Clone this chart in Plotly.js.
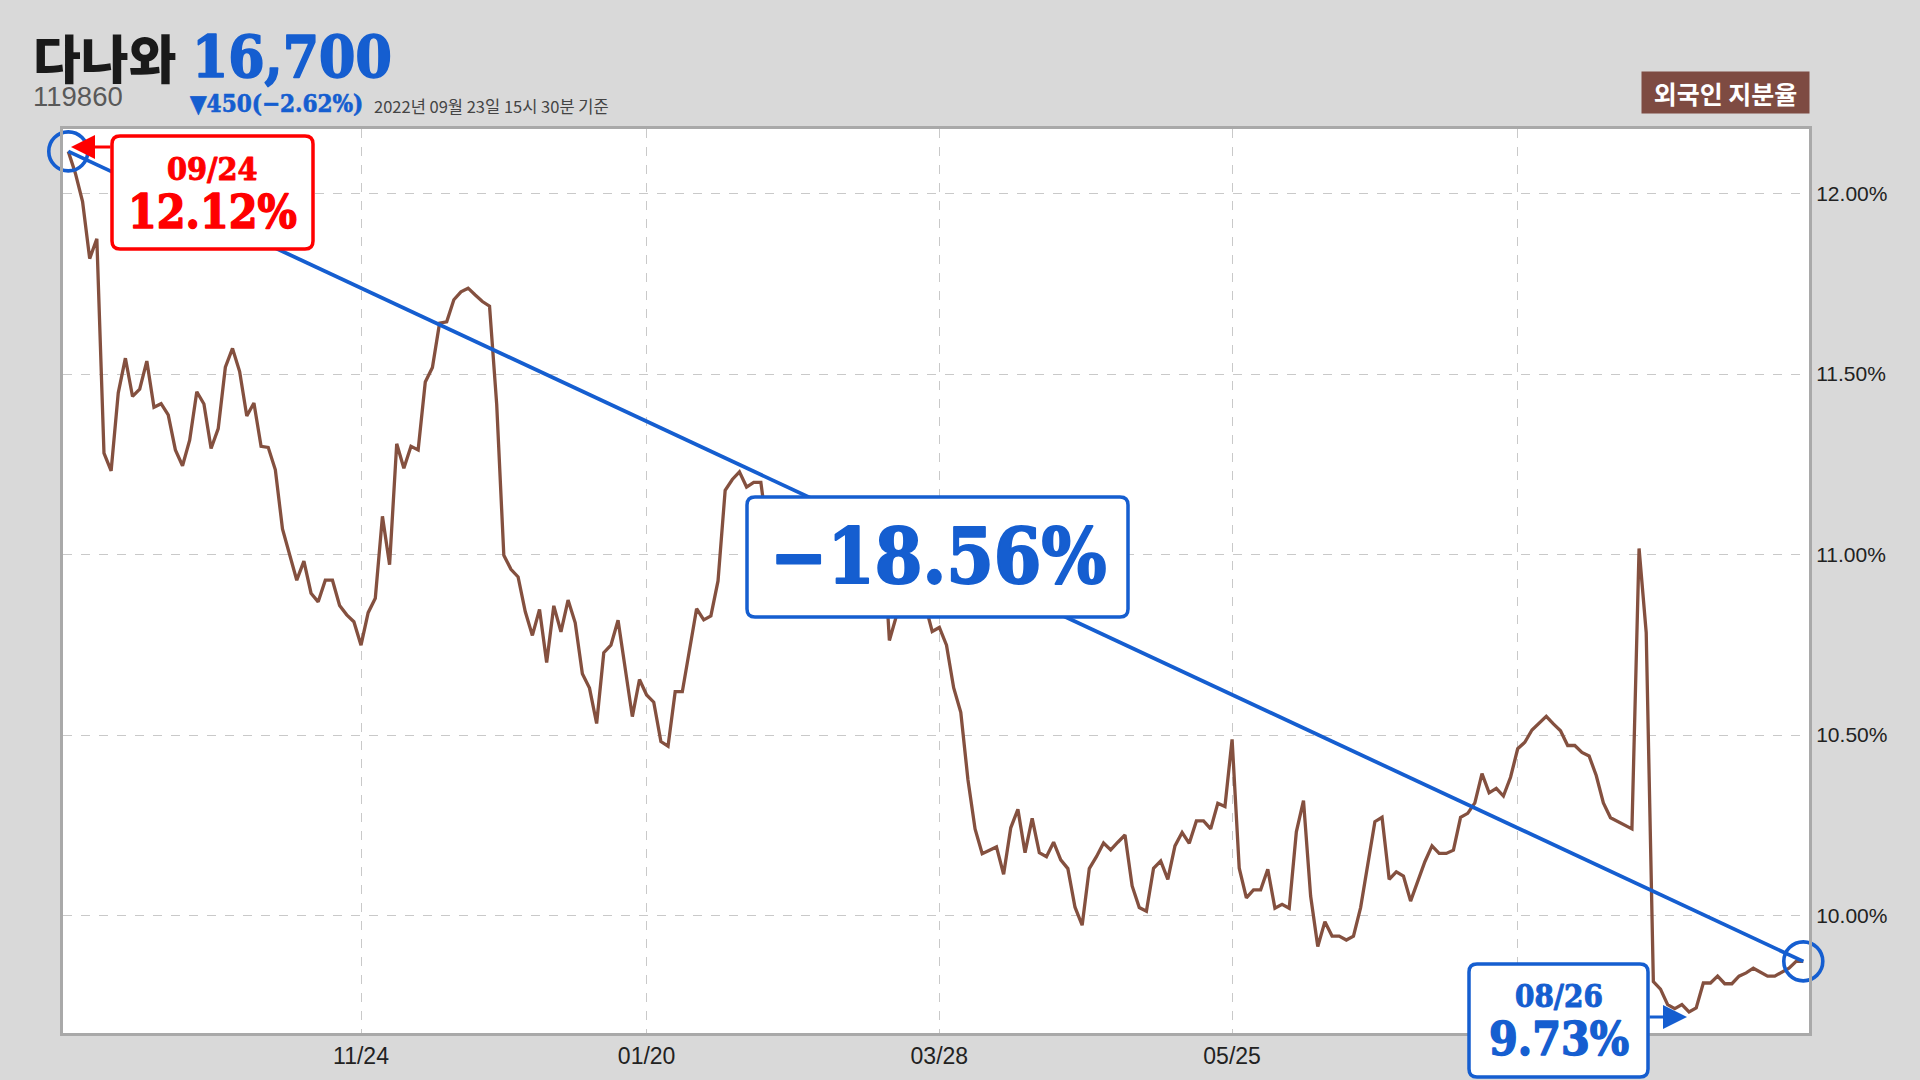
<!DOCTYPE html>
<html><head><meta charset="utf-8">
<script src="https://cdn.plot.ly/plotly-3.0.1.min.js"></script>
<style>
html,body{margin:0;padding:0;background:#d9d9d9;overflow:hidden}#chart{width:1920px;height:1080px;}
g.annotation[data-index="1"] text.annotation-text{stroke:#155ed0;stroke-width:1.6px;stroke-linejoin:round}
g.annotation[data-index="3"] text.annotation-text{stroke:#155ed0;stroke-width:0.6px;stroke-linejoin:round}
g.annotation[data-index="6"] text.annotation-text{stroke:#ff0000;stroke-width:0.9px;stroke-linejoin:round}
g.annotation[data-index="7"] text.annotation-text{stroke:#ff0000;stroke-width:1.4px;stroke-linejoin:round}
g.annotation[data-index="8"] text.annotation-text{stroke:#155ed0;stroke-width:2px;stroke-linejoin:round}
g.annotation[data-index="9"] text.annotation-text{stroke:#155ed0;stroke-width:0.9px;stroke-linejoin:round}
g.annotation[data-index="10"] text.annotation-text{stroke:#155ed0;stroke-width:1.4px;stroke-linejoin:round}
</style>
</head><body><div id="chart"></div>
<script>
// ---------------- data ----------------
const stockName = '다나와';
const stockCode = '119860';
const priceText = '16,700';
const changeText = '▼450(−2.62%)';
const asOfText = '2022년 09월 23일 15시 30분 기준';
const seriesName = '외국인 지분율';
const startDate = '09/24';
const startValueText = '12.12%';
const minDate = '08/26';
const minValueText = '9.73%';
const totalChangeText = '−18.56%';
const tickIndex = [41, 81, 122, 163, 203];
const tickLabels = ['11/24', '01/20', '03/28', '05/25', ''];
const yTickValues = [10, 10.5, 11, 11.5, 12];
const yTickLabels = ['10.00%', '10.50%', '11.00%', '11.50%', '12.00%'];
const foreignRatio = [
 12.117,12.056,11.978,11.820,11.875,11.281,11.232,11.448,11.544,11.438,
 11.458,11.536,11.408,11.418,11.387,11.290,11.246,11.317,11.451,11.417,
 11.294,11.349,11.519,11.571,11.507,11.384,11.420,11.300,11.297,11.235,
 11.071,10.999,10.929,10.982,10.893,10.869,10.929,10.929,10.859,10.833,
 10.814,10.749,10.839,10.879,11.106,10.972,11.307,11.239,11.300,11.290,
 11.478,11.518,11.641,11.645,11.706,11.728,11.738,11.719,11.701,11.688,
 11.417,10.998,10.959,10.938,10.842,10.776,10.848,10.701,10.858,10.786,
 10.874,10.811,10.670,10.630,10.532,10.728,10.749,10.818,10.683,10.551,
 10.654,10.611,10.591,10.482,10.469,10.620,10.620,10.733,10.850,10.819,
 10.830,10.927,11.178,11.208,11.229,11.187,11.200,11.200,11.050,10.980,
 11.020,10.950,10.990,11.040,11.080,11.030,10.970,11.010,11.060,11.100,
 11.070,11.020,10.980,11.030,11.100,10.762,10.831,10.900,10.950,10.920,
 10.862,10.787,10.798,10.749,10.631,10.563,10.377,10.240,10.171,10.181,
 10.190,10.114,10.243,10.294,10.174,10.269,10.174,10.163,10.203,10.154,
 10.130,10.023,9.973,10.130,10.163,10.201,10.182,10.203,10.223,10.082,
 10.022,10.012,10.131,10.151,10.100,10.193,10.230,10.200,10.262,10.262,
 10.240,10.311,10.302,10.488,10.131,10.049,10.071,10.071,10.128,10.020,
 10.031,10.020,10.232,10.318,10.054,9.914,9.983,9.943,9.943,9.932,
 9.943,10.022,10.146,10.260,10.272,10.100,10.121,10.109,10.040,10.094,
 10.149,10.193,10.172,10.172,10.181,10.272,10.283,10.312,10.393,10.340,
 10.352,10.331,10.383,10.462,10.480,10.514,10.533,10.552,10.531,10.512,
 10.471,10.471,10.452,10.442,10.388,10.312,10.271,10.261,10.249,10.240,
 11.017,10.784,9.817,9.796,9.753,9.742,9.753,9.733,9.744,9.813,
 9.813,9.832,9.811,9.811,9.832,9.841,9.854,9.842,9.832,9.832,
 9.844,9.854,9.873,9.873
];

// ---------------- style ----------------
const BLUE = '#155ed0', RED = '#ff0000', BROWN = '#84503f', BOXBROWN = '#7e4b42';
const SERIF = '"DejaVu Serif Condensed", "DejaVu Serif", serif';
const KR = '"Noto Sans CJK KR", sans-serif';
const SANS = '"Liberation Sans", Arial, sans-serif';
const M = {l: 63, r: 111, t: 129, b: 47};
const PW = 1920 - M.l - M.r, PH = 1080 - M.t - M.b;
const X = p => (p - M.l) / PW;
const Y = p => (1080 - M.b - p) / PH;

const idx = foreignRatio.map((_, i) => i);
const last = foreignRatio.length - 1;

function roundRect(x0, y0, x1, y1, r) {
  const f = (a, b) => X(a) + ',' + Y(b);
  return 'M' + f(x0 + r, y0) + ' L' + f(x1 - r, y0) + ' Q' + f(x1, y0) + ' ' + f(x1, y0 + r) +
    ' L' + f(x1, y1 - r) + ' Q' + f(x1, y1) + ' ' + f(x1 - r, y1) +
    ' L' + f(x0 + r, y1) + ' Q' + f(x0, y1) + ' ' + f(x0, y1 - r) +
    ' L' + f(x0, y0 + r) + ' Q' + f(x0, y0) + ' ' + f(x0 + r, y0) + ' Z';
}

const traces = [
  {x: idx, y: foreignRatio, type: 'scatter', mode: 'lines', line: {color: BROWN, width: 3.3}, hoverinfo: 'skip'},
  {x: [0, last], y: [foreignRatio[0], foreignRatio[last]], type: 'scatter', mode: 'lines',
   line: {color: BLUE, width: 3.8}, hoverinfo: 'skip'},
  {x: [0, last], y: [foreignRatio[0], foreignRatio[last]], type: 'scatter', mode: 'markers', cliponaxis: false,
   marker: {symbol: 'circle-open', size: 39, color: BLUE, line: {width: 3.6, color: BLUE}}, hoverinfo: 'skip'}
];

const boxLine = c => ({color: c, width: 3.5});
const shapes = [
  {type: 'path', xref: 'paper', yref: 'paper', layer: 'above', path: roundRect(112, 136, 313, 249, 8), fillcolor: '#fff', line: boxLine(RED)},
  {type: 'path', xref: 'paper', yref: 'paper', layer: 'above', path: roundRect(747, 497, 1128, 617, 8), fillcolor: '#fff', line: boxLine(BLUE)},
  {type: 'path', xref: 'paper', yref: 'paper', layer: 'above', path: roundRect(1469, 964, 1648, 1077, 8), fillcolor: '#fff', line: boxLine(BLUE)}
];

function txt(text, x, y, size, color, family, weight, xanchor) {
  return {text: text, xref: 'paper', yref: 'paper', x: X(x), y: Y(y), xanchor: xanchor || 'center', yanchor: 'middle',
    showarrow: false, font: {size: size, color: color, family: family, weight: weight || 'normal'}};
}

const annotations = [
  Object.assign(txt(stockName, 31, 56.5, 52, '#1a1a1a', KR, 900, 'left'), {height: 58}),
  txt(priceText, 190, 57, 58, BLUE, SERIF, 'bold', 'left'),
  Object.assign(txt(stockCode, 31, 96, 27.5, '#595959', SANS, 'normal', 'left'), {height: 22}),
  txt(changeText, 188, 103.5, 24, BLUE, SERIF, 'bold', 'left'),
  txt(asOfText, 372, 106, 16.5, '#444', KR, 'normal', 'left'),
  Object.assign(txt(seriesName, 1725.5, 92.5, 25, '#fff', KR, 'bold'), {bgcolor: BOXBROWN, width: 167, height: 41, borderpad: 0}),
  txt(startDate, 212.5, 169, 32, RED, SERIF, 'bold'),
  txt(startValueText, 212.5, 212, 46, RED, SERIF, 'bold'),
  txt(totalChangeText, 937.5, 556, 76, BLUE, SERIF, 'bold'),
  txt(minDate, 1558.5, 996, 31, BLUE, SERIF, 'bold'),
  txt(minValueText, 1558.5, 1039, 46, BLUE, SERIF, 'bold'),
  {text: '', xref: 'paper', yref: 'paper', x: X(71), y: Y(147), ax: 41, ay: 0, showarrow: true,
   arrowcolor: RED, arrowwidth: 3, arrowhead: 2, arrowsize: 1.6},
  {text: '', xref: 'paper', yref: 'paper', x: X(1687), y: Y(1017), ax: -39, ay: 0, showarrow: true,
   arrowcolor: BLUE, arrowwidth: 3, arrowhead: 2, arrowsize: 1.6}
];

const gridStyle = {showgrid: true, gridcolor: '#c9c9c9', griddash: 'dash', gridwidth: 1,
  showline: true, mirror: true, linecolor: '#a9a9a9', linewidth: 3, zeroline: false, ticks: ''};

const layout = {
  width: 1920, height: 1080, margin: M,
  paper_bgcolor: '#d9d9d9', plot_bgcolor: '#ffffff', showlegend: false,
  xaxis: Object.assign({range: [-0.74, 243.8], tickmode: 'array', tickvals: tickIndex, ticktext: tickLabels,
    tickfont: {size: 23, color: '#222', family: SANS}}, gridStyle),
  yaxis: Object.assign({side: 'right', range: [9.6745, 12.179], tickmode: 'array', tickvals: yTickValues,
    ticktext: yTickLabels, tickfont: {size: 21, color: '#222', family: SANS}}, gridStyle),
  shapes: shapes, annotations: annotations
};

Plotly.newPlot('chart', traces, layout, {staticPlot: true, displayModeBar: false});
</script></body></html>
